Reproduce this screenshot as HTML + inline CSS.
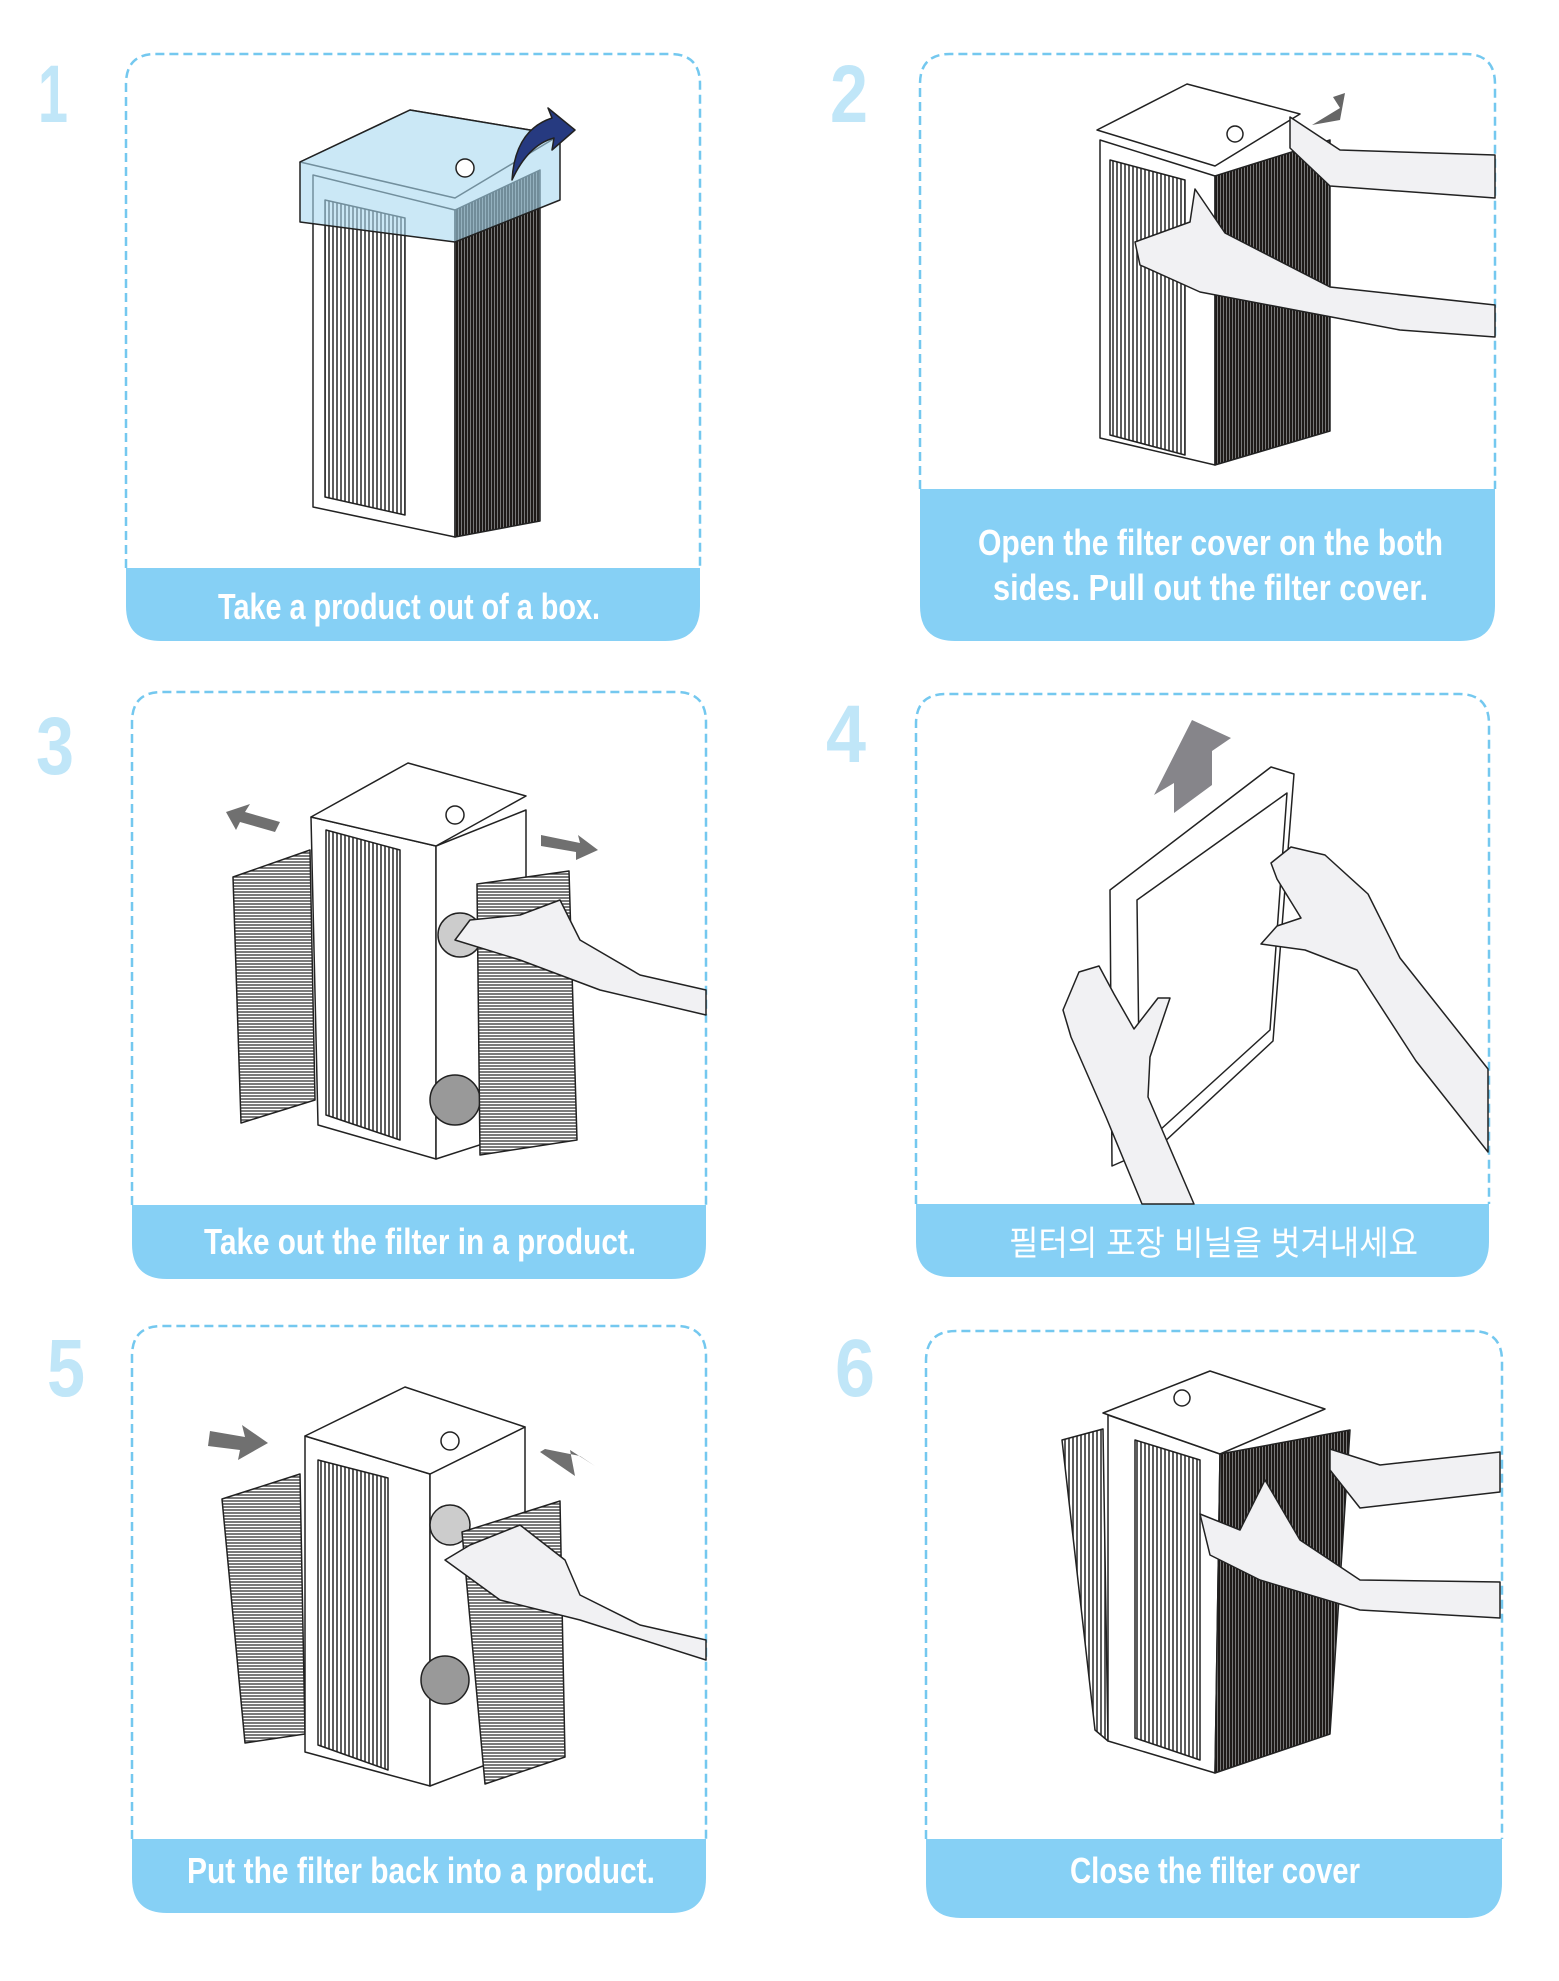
<!DOCTYPE html>
<html><head><meta charset="utf-8"><style>
html,body{margin:0;padding:0;background:#fff;}
svg{display:block}
</style></head><body>
<svg width="1559" height="1981" viewBox="0 0 1559 1981" xmlns="http://www.w3.org/2000/svg">
<defs>
<pattern id="vs" width="4" height="10" patternUnits="userSpaceOnUse"><rect width="4" height="10" fill="#fff"/><line x1="1" y1="0" x2="1" y2="10" stroke="#333" stroke-width="1.6"/></pattern>
<pattern id="ds" width="3" height="10" patternUnits="userSpaceOnUse"><rect width="3" height="10" fill="#777"/><line x1="1" y1="0" x2="1" y2="10" stroke="#1e1a18" stroke-width="2"/></pattern>
<pattern id="hs" width="10" height="3" patternUnits="userSpaceOnUse"><rect width="10" height="3" fill="#fff"/><line x1="0" y1="1" x2="10" y2="1" stroke="#333" stroke-width="1.3"/></pattern>
</defs>
<g font-family="'Liberation Sans Narrow','Liberation Sans',sans-serif" fill="#c0e6f8" font-weight="bold">
<text x="38" y="122" font-size="82" textLength="30" lengthAdjust="spacingAndGlyphs">1</text>
<text x="830" y="122" font-size="82" textLength="38" lengthAdjust="spacingAndGlyphs">2</text>
<text x="36" y="774" font-size="82" textLength="38" lengthAdjust="spacingAndGlyphs">3</text>
<text x="826" y="762" font-size="82" textLength="40" lengthAdjust="spacingAndGlyphs">4</text>
<text x="47" y="1396" font-size="82" textLength="38" lengthAdjust="spacingAndGlyphs">5</text>
<text x="835" y="1396" font-size="82" textLength="40" lengthAdjust="spacingAndGlyphs">6</text>
</g>
<g fill="none" stroke="#74c8ef" stroke-width="2.5" stroke-dasharray="9 5">
<path d="M126 568 V84 Q126 54 156 54 H670 Q700 54 700 84 V568"/>
<path d="M920 489 V84 Q920 54 950 54 H1465 Q1495 54 1495 84 V489"/>
<path d="M132 1205 V722 Q132 692 162 692 H676 Q706 692 706 722 V1205"/>
<path d="M916 1204 V724 Q916 694 946 694 H1459 Q1489 694 1489 724 V1204"/>
<path d="M132 1839 V1356 Q132 1326 162 1326 H676 Q706 1326 706 1356 V1839"/>
<path d="M926 1839 V1361 Q926 1331 956 1331 H1472 Q1502 1331 1502 1361 V1839"/>
</g>
<g fill="#86d0f5">
<path d="M126 568 H700 V606 Q700 641 665 641 H161 Q126 641 126 606Z"/>
<path d="M920 489 H1495 V606 Q1495 641 1460 641 H955 Q920 641 920 606Z"/>
<path d="M132 1205 H706 V1244 Q706 1279 671 1279 H167 Q132 1279 132 1244Z"/>
<path d="M916 1204 H1489 V1242 Q1489 1277 1454 1277 H951 Q916 1277 916 1242Z"/>
<path d="M132 1839 H706 V1878 Q706 1913 671 1913 H167 Q132 1913 132 1878Z"/>
<path d="M926 1839 H1502 V1883 Q1502 1918 1467 1918 H961 Q926 1918 926 1883Z"/>
</g>
<g fill="#fff" font-family="'Liberation Sans Narrow','Liberation Sans',sans-serif" font-size="36" font-weight="bold">
<text x="218" y="619" textLength="382" lengthAdjust="spacingAndGlyphs">Take a product out of a box.</text>
<text x="978" y="555" textLength="465" lengthAdjust="spacingAndGlyphs">Open the filter cover  on the both</text>
<text x="993" y="600" textLength="435" lengthAdjust="spacingAndGlyphs">sides.   Pull out the filter cover.</text>
<text x="204" y="1254" textLength="432" lengthAdjust="spacingAndGlyphs">Take out the filter in a product.</text>
<text x="187" y="1883" textLength="468" lengthAdjust="spacingAndGlyphs">Put the filter back into a product.</text>
<text x="1070" y="1883" textLength="290" lengthAdjust="spacingAndGlyphs">Close the filter cover</text>
</g>
<text x="1009" y="1255" fill="#fff" font-family="'Liberation Sans','Noto Sans CJK KR',sans-serif" font-size="34" textLength="409" lengthAdjust="spacingAndGlyphs">필터의 포장 비닐을 벗겨내세요</text>

<g stroke="#222" stroke-width="1.5" stroke-linejoin="round">
<polygon points="313,175 455,210 455,537 313,507" fill="#fff"/>
<polygon points="325,200 405,218 405,515 325,497" fill="url(#vs)"/>
<polygon points="455,210 540,170 540,521 455,537" fill="url(#ds)"/>
<polygon points="300,162 410,110 560,135 455,198" fill="#fff"/>
<polygon points="300,162 410,110 560,135 560,200 455,242 300,222" fill="#a8d8f0" fill-opacity="0.6"/>
<circle cx="465" cy="168" r="9" fill="#fff"/>
<path d="M512 180 Q515 130 552 118 L548 108 L575 130 L552 150 L554 138 Q528 145 512 180Z" fill="#263a80"/>
<polygon points="1100,140 1215,176 1215,465 1100,438" fill="#fff"/>
<polygon points="1110,160 1185,180 1185,455 1110,435" fill="url(#vs)"/>
<polygon points="1215,176 1330,140 1330,431 1215,465" fill="url(#ds)"/>
<polygon points="1097,130 1187,84 1300,114 1215,166" fill="#fff"/>
<circle cx="1235" cy="134" r="8" fill="#fff"/>
<polygon points="1290,117 1340,150 1495,155 1495,198 1330,186 1290,148" fill="#f1f1f3"/>
<polygon points="1195,189 1225,233 1330,287 1495,305 1495,337 1400,330 1200,292 1140,265 1135,242 1190,222" fill="#f1f1f3"/>
<polygon points="1312,125 1340,108 1333,97 1345,93 1340,120" fill="#666" stroke="none"/>
<polygon points="233,877 310,850 315,1100 241,1123" fill="url(#hs)"/>
<polygon points="311,817 436,846 436,1159 318,1125" fill="#fff"/>
<polygon points="326,830 400,850 400,1140 326,1115" fill="url(#vs)"/>
<polygon points="436,846 526,810 526,1130 436,1159" fill="#fff"/>
<circle cx="460" cy="935" r="22" fill="#ccc"/><circle cx="455" cy="1100" r="25" fill="#999"/>
<polygon points="311,817 408,763 526,796 436,846" fill="#fff"/>
<circle cx="455" cy="815" r="9" fill="#fff"/>
<polygon points="477,884 569,871 577,1140 480,1155" fill="url(#hs)"/>
<polygon points="706,990 640,975 580,940 560,900 520,915 470,920 455,940 520,960 600,990 706,1015" fill="#f1f1f3"/>
<polygon points="226,812 250,804 245,812 280,822 275,832 240,822 236,830" fill="#707070" stroke="none"/>
<polygon points="541,835 580,843 578,835 598,850 576,860 576,852 541,846" fill="#707070" stroke="none"/>
<polygon points="1110,890 1271,767 1294,774 1273,1041 1162,1144 1112,1166" fill="#fff"/>
<polygon points="1137,900 1287,793 1270,1030 1160,1130 1140,1135" fill="#fff"/>
<polygon points="1154,795 1192,720 1231,738 1212,751 1212,785 1174,813 1174,783" fill="#86858a" stroke="none"/>
<polygon points="1063,1010 1079,972 1099,966 1114,994 1134,1029 1158,998 1170,998 1150,1057 1148,1097 1194,1204 1142,1204 1106,1117 1071,1037" fill="#f1f1f3"/>
<polygon points="1271,863 1291,847 1325,855 1368,894 1400,958 1488,1069 1488,1152 1416,1061 1357,970 1305,950 1261,944 1277,926 1301,918 1277,879" fill="#f1f1f3"/>
<polygon points="222,1499 300,1474 305,1734 245,1743" fill="url(#hs)"/>
<polygon points="305,1436 430,1474 430,1786 305,1752" fill="#fff"/>
<polygon points="318,1460 388,1478 388,1770 318,1745" fill="url(#vs)"/>
<polygon points="430,1474 525,1427 525,1750 430,1786" fill="#fff"/>
<circle cx="450" cy="1525" r="20" fill="#ccc"/><circle cx="445" cy="1680" r="24" fill="#999"/>
<polygon points="305,1436 405,1387 525,1427 430,1474" fill="#fff"/>
<circle cx="450" cy="1441" r="9" fill="#fff"/>
<polygon points="462,1532 560,1501 565,1757 485,1784" fill="url(#hs)"/>
<polygon points="706,1640 640,1625 580,1595 565,1560 520,1525 470,1545 445,1560 500,1600 580,1620 706,1660" fill="#f1f1f3"/>
<polygon points="210,1431 245,1437 242,1425 268,1443 238,1460 240,1450 208,1446" fill="#707070" stroke="none"/>
<polygon points="595,1466 570,1450 575,1476 540,1452 545,1449 580,1456" fill="#707070" stroke="none"/>
<polygon points="1062,1440 1103,1429 1108,1741 1095,1730" fill="url(#vs)"/>
<polygon points="1108,1415 1220,1454 1215,1773 1108,1741" fill="#fff"/>
<polygon points="1135,1440 1200,1460 1200,1760 1135,1738" fill="url(#vs)"/>
<polygon points="1220,1454 1350,1430 1330,1734 1215,1773" fill="url(#ds)"/>
<polygon points="1103,1413 1210,1371 1325,1409 1220,1454" fill="#fff"/>
<circle cx="1182" cy="1398" r="8" fill="#fff"/>
<polygon points="1330,1449 1380,1465 1500,1452 1500,1492 1360,1508 1330,1470" fill="#f1f1f3"/>
<polygon points="1265,1480 1300,1540 1360,1580 1500,1582 1500,1618 1360,1610 1260,1580 1210,1555 1200,1514 1240,1530" fill="#f1f1f3"/>
</g>
</svg>
</body></html>
